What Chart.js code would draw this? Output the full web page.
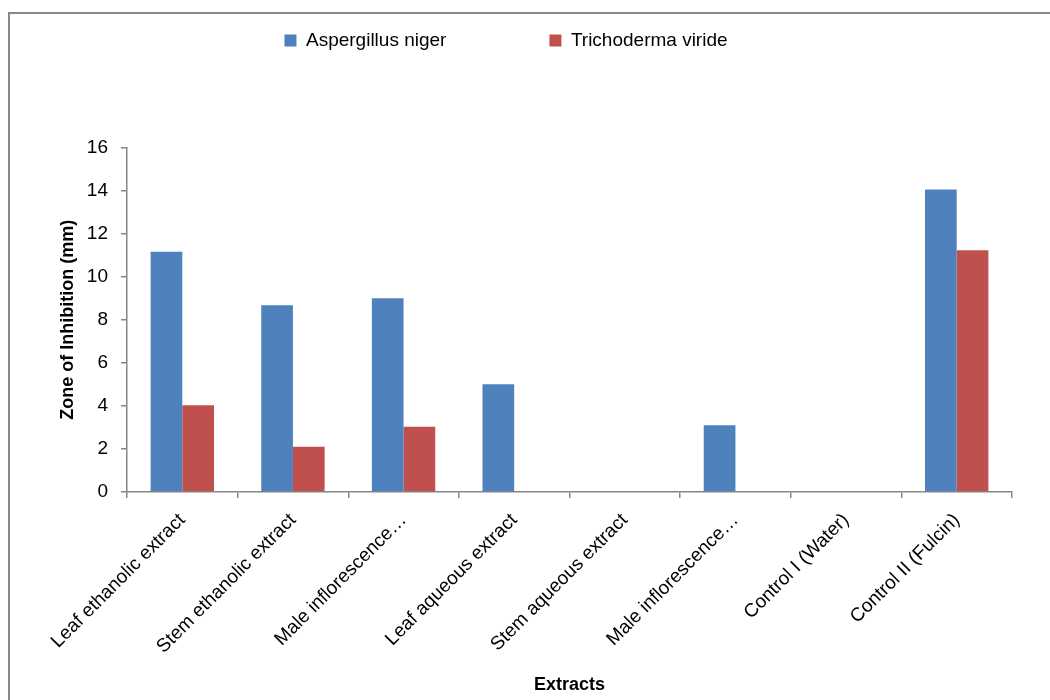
<!DOCTYPE html>
<html>
<head>
<meta charset="utf-8">
<script src="https://cdn.jsdelivr.net/npm/chart.js@4.4.1/dist/chart.umd.min.js"></script>
<style>
  html, body { margin: 0; padding: 0; background: #fff; }
  #frame { position: absolute; left: 8px; top: 12px; width: 1100px; height: 800px;
           border-left: 2px solid #888; border-top: 2px solid #888; }
  #wrap { position: absolute; left: 0; top: 0; width: 1050px; height: 700px; }
</style>
</head>
<body>
<div id="frame"></div>
<div id="wrap"><canvas id="chart" width="1050" height="700"></canvas></div>
<script>
// data
const extracts = [
  'Leaf ethanolic extract',
  'Stem ethanolic extract',
  'Male inflorescence\u2026',
  'Leaf aqueous extract',
  'Stem aqueous extract',
  'Male inflorescence\u2026',
  'Control I (Water)',
  'Control II (Fulcin)'
];
const aspergillus = [11.15, 8.67, 9.0, 5.0, 0, 3.1, 0, 14.05];
const trichoderma = [4.03, 2.1, 3.03, 0, 0, 0, 0, 11.22];
const seriesNames = ['Aspergillus niger', 'Trichoderma viride'];

const BLUE = '#4F81BD';
const RED = '#C0504D';
const AXIS = '#868686';
const FONT = "'Liberation Sans', Arial, sans-serif";

Chart.defaults.font.family = FONT;
Chart.defaults.color = '#000';

const ctx = document.getElementById('chart').getContext('2d');
new Chart(ctx, {
  type: 'bar',
  data: {
    labels: extracts,
    datasets: [
      { label: seriesNames[0], data: aspergillus, backgroundColor: BLUE, borderWidth: 0 },
      { label: seriesNames[1], data: trichoderma, backgroundColor: RED, borderWidth: 0 }
    ]
  },
  options: {
    responsive: false,
    animation: false,
    categoryPercentage: 0.573,
    barPercentage: 1.0,
    // legend items are spread wide, so its box is tall; pull it up and
    // use an empty title below it as a spacer above the plot
    layout: { padding: { top: -72, right: 38, left: 0, bottom: 0 } },
    plugins: {
      tooltip: { enabled: false },
      legend: {
        position: 'top',
        labels: {
          boxWidth: 12, boxHeight: 12, padding: 103,
          font: { size: 19 }, color: '#000'
        }
      },
      title: {
        display: true, text: '', position: 'top', weight: 500,
        font: { size: 12 }, padding: { top: 0, bottom: 73 }
      }
    },
    scales: {
      x: {
        grid: { display: true, drawOnChartArea: false, drawTicks: true, tickLength: 6, color: AXIS, lineWidth: 1.5 },
        border: { color: AXIS, width: 1.5 },
        ticks: { maxRotation: 45, minRotation: 45, padding: 11, font: { size: 19 }, color: '#000', autoSkip: false },
        title: { display: true, text: 'Extracts', font: { size: 18, weight: 'bold' }, color: '#000', padding: { top: 4, bottom: 4 } },
        afterFit: function (scale) {
          scale.height = 208;
          scale.paddingLeft = 0;
          scale.paddingRight = 0;
        }
      },
      y: {
        min: 0, max: 16,
        grid: { display: true, drawOnChartArea: false, drawTicks: true, tickLength: 6, color: AXIS, lineWidth: 1.5 },
        border: { color: AXIS, width: 1.5 },
        ticks: { stepSize: 2, padding: 13, font: { size: 19 }, color: '#000' },
        title: { display: true, text: 'Zone of Inhibition (mm)', font: { size: 18, weight: 'bold' }, color: '#000', padding: { top: 57, bottom: 0 } },
        afterFit: function (scale) {
          scale.width = 127;
        }
      }
    }
  }
});
</script>
</body>
</html>
